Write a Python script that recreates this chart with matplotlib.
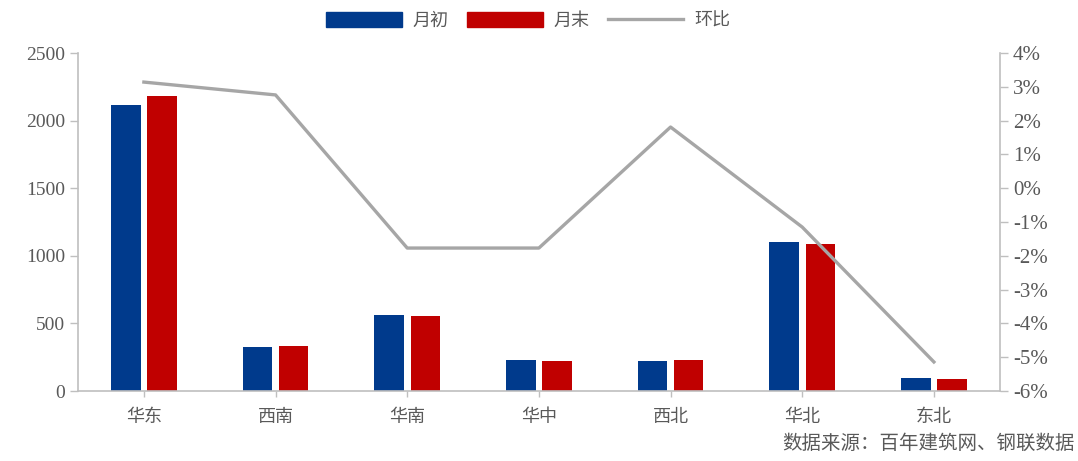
import matplotlib
matplotlib.use("Agg")
import matplotlib.pyplot as plt
import numpy as np
from matplotlib.ticker import FuncFormatter
from matplotlib.lines import Line2D
from matplotlib.patches import Patch

categories = ["华东", "西南", "华南", "华中", "西北", "华北", "东北"]
month_start = [2115, 325, 562, 229, 222, 1102, 96]
month_end = [2182, 333, 555, 222, 229, 1087, 89]
mom_pct = [3.14, 2.76, -1.77, -1.77, 1.81, -1.15, -5.14]

cjk = ["Noto Sans CJK SC", "DejaVu Sans"]
serif = ["Liberation Serif", "DejaVu Serif"]
txt = "#595959"
axc = "#BFBFBF"

fig = plt.figure(figsize=(10.78, 4.61), dpi=100)
ax = fig.add_axes([0.0724, 0.1518, 0.855, 0.7332])
ax2 = ax.twinx()

x = np.arange(len(categories))
w = 0.225
gap = 0.05
ax.bar(x - (w + gap) / 2, month_start, width=w, color="#003A8C", zorder=2)
ax.bar(x + (w + gap) / 2, month_end, width=w, color="#C00000", zorder=2)
ax.set_xlim(-0.5, len(categories) - 0.5)
ax.set_ylim(0, 2500)
ax.set_yticks(np.arange(0, 2501, 500))
ax.set_xticks(x)
ax.set_xticklabels(categories, fontfamily=cjk, fontsize=13, color=txt)

ax2.plot(x, mom_pct, color="#A6A6A6", lw=2.4, zorder=3)
ax2.set_ylim(-6, 4)
ax2.set_yticks(np.arange(-6, 5, 1))
ax2.yaxis.set_major_formatter(FuncFormatter(lambda v, p: f"{int(round(v))}%"))

for a in (ax, ax2):
    a.spines["top"].set_visible(False)
    for s in ("left", "right", "bottom"):
        a.spines[s].set_color(axc)
        a.spines[s].set_linewidth(1.2)
ax.spines["right"].set_visible(False)
ax2.spines["left"].set_visible(False)
ax2.spines["bottom"].set_visible(False)

ax.tick_params(axis="y", colors=axc, labelcolor=txt, labelsize=14, length=6, width=1)
ax.tick_params(axis="x", colors=axc, labelcolor=txt, length=4, width=1, pad=8)
ax2.tick_params(axis="y", colors=axc, labelcolor=txt, labelsize=15, length=6, width=1)
for lab in ax.get_yticklabels() + ax2.get_yticklabels():
    lab.set_fontfamily(serif)

handles = [Patch(color="#003A8C"), Patch(color="#C00000"),
           Line2D([0], [0], color="#A6A6A6", lw=2.4)]
leg = fig.legend(handles, ["月初", "月末", "环比"], loc="upper center",
                 bbox_to_anchor=(0.49, 1.01), ncol=3, frameon=False,
                 prop={"family": cjk, "size": 13}, handlelength=4.2,
                 handleheight=0.9, columnspacing=1.0, handletextpad=0.6)
for t in leg.get_texts():
    t.set_color(txt)

fig.text(0.997, 0.015, "数据来源：百年建筑网、钢联数据", ha="right", va="bottom",
         fontfamily=cjk, fontsize=14, color=txt)

fig.savefig("out.png", dpi=100)
